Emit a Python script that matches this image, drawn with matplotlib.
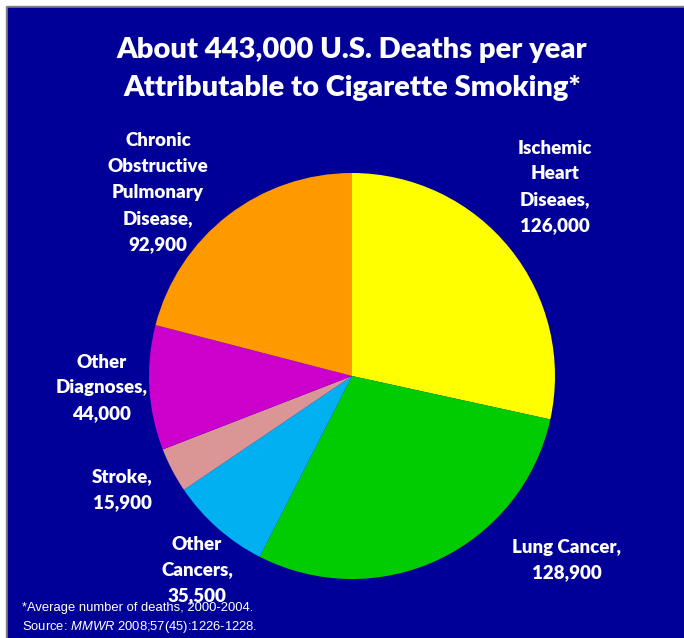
import matplotlib
matplotlib.use("Agg")
import matplotlib.pyplot as plt
from matplotlib.patches import Rectangle
from matplotlib import font_manager

# data
causes = ["Ischemic\nHeart\nDiseaes,", "Lung Cancer,", "Other\nCancers,",
          "Stroke,", "Other\nDiagnoses,", "Chronic\nObstructive\nPulmonary\nDisease,"]
deaths = [126000, 128900, 35500, 15900, 44000, 92900]
colors = ["#FFFF00", "#00CC00", "#00B0F0", "#D99694", "#CC00CC", "#FF9900"]

# label centres in pixels (x, y of first line)
label_pos = [(555, 148), (567, 547), (197, 544), (122, 477), (102, 362), (158, 141)]

W, H = 684, 638
bg = "#000099"
font = "Lato"

names = {f.name for f in font_manager.fontManager.ttflist}
note_font = "Liberation Sans Narrow" if "Liberation Sans Narrow" in names else "Liberation Sans"
note_size = 10.5 if note_font.endswith("Narrow") else 9.4

plt.rcParams["mathtext.fontset"] = "custom"
plt.rcParams["mathtext.rm"] = note_font
plt.rcParams["mathtext.it"] = note_font + ":italic"

fig = plt.figure(figsize=(W / 100, H / 100), dpi=100, facecolor="white")
ax = fig.add_axes([0, 0, 1, 1])


def py(y):
    return H - y


ax.add_patch(Rectangle((6, 0), W, py(6), color="#808080", zorder=0))
ax.add_patch(Rectangle((8, 0), W, py(8), color=bg, zorder=0))

ax.pie(deaths, colors=colors, startangle=90, counterclock=False,
       center=(352, py(376)), radius=203, frame=True,
       wedgeprops=dict(linewidth=0))
ax.set_xlim(0, W)
ax.set_ylim(0, H)
ax.set_aspect("equal")
ax.axis("off")

ax.text(352, py(50), "About 443,000 U.S. Deaths per year", ha="center", va="center",
        color="white", fontsize=21, fontweight="heavy", family=font)
ax.text(352, py(88), "Attributable to Cigarette Smoking*", ha="center", va="center",
        color="white", fontsize=21, fontweight="heavy", family=font)

for name, val, (x, y) in zip(causes, deaths, label_pos):
    lines = name.split("\n") + [f"{val:,}"]
    for i, ln in enumerate(lines):
        ax.text(x, py(y + i * 25.8), ln, ha="center", va="center", color="white",
                fontsize=13.5, fontweight="heavy", family=font)

ax.text(22, py(608), "*Average number of deaths, 2000-2004.", ha="left", va="center",
        color="white", fontsize=note_size, family=note_font)
ax.text(22, py(627), r"Source: $\mathit{MMWR}$ 2008;57(45):1226-1228.", ha="left",
        va="center", color="white", fontsize=note_size, family=note_font)

fig.savefig("out.png", dpi=100, facecolor="white")
